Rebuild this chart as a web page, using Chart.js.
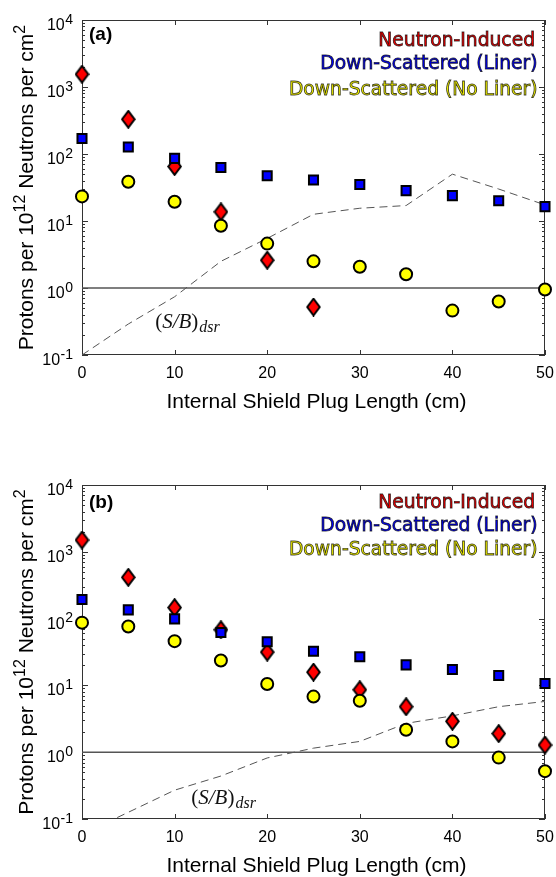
<!DOCTYPE html>
<html>
<head>
<meta charset="utf-8">
<script src="https://cdn.jsdelivr.net/npm/chart.js@4.4.0/dist/chart.umd.min.js"></script>
<style>
  body { margin: 0; background: #fff; }
  .panel { position: absolute; left: 0; width: 556px; }
  #pa { top: 0; height: 440px; }
  #pb { top: 440px; height: 437px; }
</style>
</head>
<body>
<div class="panel" id="pa"><canvas id="chartA" width="556" height="440"></canvas></div>
<div class="panel" id="pb"><canvas id="chartB" width="556" height="437"></canvas></div>
<script>
// plug length (cm) shared by both panels
const plugLength = [0, 5, 10, 15, 20, 25, 30, 35, 40, 45, 50];
const xTicks = [0, 10, 20, 30, 40, 50];
const yTickExps = [-1, 0, 1, 2, 3, 4];
const unityX = [0, 50];
const unityY = [1, 1];

// panel (a)
const neutronA = [1550, 330, 65, 13.7, 2.6, 0.52, null, null, null, null, null];
const linerA   = [170, 127, 86, 63, 47.5, 41, 35, 28.4, 23.9, 20, 16.4];
const noLinerA = [23.3, 38.6, 19.4, 8.5, 4.6, 2.5, 2.08, 1.6, 0.46, 0.63, 0.95];
const sbA      = [0.1, 0.29, 0.74, 2.5, 5.5, 12.6, 15.5, 17, 50, 30, 17.4];

// panel (b)
const neutronB = [1500, 415, 146, 68, 31.5, 15.8, 8.6, 4.8, 2.9, 1.9, 1.28];
const linerB   = [193, 135, 99, 62, 45, 32.5, 26.8, 20.3, 17.3, 14.1, 10.7];
const noLinerB = [87, 76, 46, 23.6, 10.5, 6.8, 5.9, 2.17, 1.45, 0.83, 0.52];
const sbB      = [0.059, 0.126, 0.27, 0.44, 0.82, 1.15, 1.45, 2.7, 3.5, 4.8, 5.75];

const legendNames = ['Neutron-Induced', 'Down-Scattered (Liner)', 'Down-Scattered (No Liner)'];
const legendColors = ['#ff0000', '#0000ff', '#ffff00'];

const SANS = '"Liberation Sans", Arial, sans-serif';

// tall red diamond marker
const diamond = document.createElement('canvas');
diamond.width = 15; diamond.height = 19;
(function () {
  const c = diamond.getContext('2d');
  c.beginPath();
  c.moveTo(7.5, 1.2); c.lineTo(13.8, 9.5); c.lineTo(7.5, 17.8); c.lineTo(1.2, 9.5);
  c.closePath();
  c.fillStyle = '#ff0000'; c.fill();
  c.lineWidth = 2; c.strokeStyle = '#000'; c.stroke();
})();

function series(xs, ys) {
  return xs.map((x, i) => ({ x: x, y: ys[i] })).filter(p => p.y != null);
}

const framePlugin = {
  id: 'frame',
  beforeDatasetsDraw(chart) {
    const ctx = chart.ctx;
    const { left, right, top, bottom } = chart.chartArea;
    const xs = chart.scales.x, ys = chart.scales.y;
    ctx.save();
    ctx.strokeStyle = '#333';
    ctx.lineWidth = 1;
    ctx.strokeRect(left + 0.5, top + 0.5, right - left - 1, bottom - top - 1);
    ctx.beginPath();
    xTicks.forEach(v => {
      const px = Math.round(xs.getPixelForValue(v)) + 0.5;
      ctx.moveTo(px, bottom); ctx.lineTo(px, bottom - 5);
      ctx.moveTo(px, top); ctx.lineTo(px, top + 5);
    });
    yTickExps.forEach(k => {
      const py = Math.round(ys.getPixelForValue(Math.pow(10, k))) + 0.5;
      ctx.moveTo(left, py); ctx.lineTo(left + 6, py);
      ctx.moveTo(right, py); ctx.lineTo(right - 6, py);
      if (k < 4) {
        for (let m = 2; m <= 9; m++) {
          const pm = Math.round(ys.getPixelForValue(m * Math.pow(10, k))) + 0.5;
          ctx.moveTo(left, pm); ctx.lineTo(left + 3, pm);
          ctx.moveTo(right, pm); ctx.lineTo(right - 3, pm);
        }
      }
    });
    ctx.stroke();
    ctx.restore();
  },
  afterDraw(chart, args, opts) {
    const ctx = chart.ctx;
    const { left, right, top, bottom } = chart.chartArea;
    const xs = chart.scales.x, ys = chart.scales.y;
    ctx.save();
    ctx.fillStyle = '#000';
    ctx.textBaseline = 'alphabetic';

    // y tick labels 10^k
    yTickExps.forEach(k => {
      const py = ys.getPixelForValue(Math.pow(10, k));
      ctx.font = '14px ' + SANS;
      const sup = String(k);
      const ws = ctx.measureText(sup).width;
      ctx.textAlign = 'left';
      ctx.fillText(sup, 73 - ws, py + 3.5);
      ctx.font = '16px ' + SANS;
      ctx.textAlign = 'right';
      ctx.fillText('10', 73 - ws - 0.5, py + 10);
    });

    // x title
    ctx.font = '21px ' + SANS;
    ctx.textAlign = 'center';
    ctx.fillText('Internal Shield Plug Length (cm)', (left + right) / 2 + 3, bottom + 53);

    // y title with superscripts
    const parts = [
      ['Protons per 10', '21px ' + SANS, 0],
      ['12', '16px ' + SANS, 8],
      [' Neutrons per cm', '21px ' + SANS, 0],
      ['2', '16px ' + SANS, 8]
    ];
    let total = 0;
    parts.forEach(p => { ctx.font = p[1]; p.push(ctx.measureText(p[0]).width); total += p[3]; });
    ctx.save();
    ctx.translate(32.5, (top + bottom) / 2);
    ctx.rotate(-Math.PI / 2);
    ctx.textAlign = 'left';
    let u = -total / 2;
    parts.forEach(p => { ctx.font = p[1]; ctx.fillText(p[0], u, -p[2]); u += p[3]; });
    ctx.restore();

    // panel tag
    ctx.font = 'bold 19px ' + SANS;
    ctx.textAlign = 'left';
    ctx.fillText(opts.tag, left + 7, top + opts.tagDy);

    // legend text (coloured with dark edge)
    ctx.font = '18.7px "DejaVu Sans", Verdana, sans-serif';
    ctx.textAlign = 'right';
    ctx.lineWidth = 0.9;
    ctx.strokeStyle = 'rgba(0,0,0,0.75)';
    legendNames.forEach((name, i) => {
      const xr = i === 0 ? right - 10 : right - 7.5;
      const yb = top + opts.legendDy[i];
      ctx.fillStyle = legendColors[i];
      ctx.fillText(name, xr, yb);
      ctx.strokeText(name, xr, yb);
    });

    // (S/B)_dsr label
    const lx = xs.getPixelForValue(opts.sbLabel[0]);
    const ly = ys.getPixelForValue(opts.sbLabel[1]);
    ctx.fillStyle = '#111';
    ctx.textAlign = 'left';
    const pieces = [
      ['(', '21px "Liberation Serif", serif', 0],
      ['S/B', 'italic 21px "Liberation Serif", serif', 0],
      [')', '21px "Liberation Serif", serif', 0],
      ['dsr', 'italic 16px "Liberation Serif", serif', -4]
    ];
    let cx = lx;
    pieces.forEach(p => {
      ctx.font = p[1];
      ctx.fillText(p[0], cx, ly - p[2]);
      cx += ctx.measureText(p[0]).width + (p[0] === ')' ? 1 : 0);
    });
    ctx.restore();
  }
};

function makePanel(id, d) {
  return new Chart(document.getElementById(id), {
    type: 'scatter',
    data: {
      datasets: [
        { label: legendNames[2], data: series(plugLength, d.noLiner), order: 1, clip: false,
          pointStyle: 'circle', pointRadius: 6, pointBackgroundColor: '#ffff00',
          pointBorderColor: '#000', pointBorderWidth: 2 },
        { label: legendNames[1], data: series(plugLength, d.liner), order: 2, clip: false,
          pointStyle: 'rect', pointRadius: 6.4, pointBackgroundColor: '#0000ff',
          pointBorderColor: '#000', pointBorderWidth: 2 },
        { label: legendNames[0], data: series(plugLength, d.neutron), order: 3, clip: false,
          pointStyle: diamond, pointRadius: 9 },
        { label: 'S/B', data: series(plugLength, d.sb), order: 4, showLine: true,
          pointRadius: 0, borderColor: '#555', borderWidth: 1, borderDash: [8, 5] },
        { label: 'unity', data: series(unityX, unityY), order: 5, showLine: true,
          pointRadius: 0, borderColor: '#555', borderWidth: 1.5 }
      ]
    },
    options: {
      responsive: false,
      animation: false,
      layout: { padding: { left: 0, right: 11, top: d.top, bottom: 0 } },
      plugins: {
        legend: { display: false },
        tooltip: { enabled: false },
        frame: { tag: d.tag, tagDy: d.tagDy, legendDy: d.legendDy, sbLabel: d.sbLabel }
      },
      scales: {
        x: {
          type: 'linear', min: 0, max: 50,
          grid: { display: false, drawTicks: false },
          border: { display: false },
          ticks: { stepSize: 10, padding: 9, color: '#000', font: { family: SANS, size: 16 } },
          afterFit(s) { s.height = d.xAxisH; s.paddingLeft = 0; s.paddingRight = 0; }
        },
        y: {
          type: 'logarithmic', min: 0.1, max: 10000,
          grid: { display: false },
          border: { display: false },
          ticks: { display: false },
          afterFit(s) { s.width = 82; }
        }
      }
    },
    plugins: [framePlugin]
  });
}

makePanel('chartA', {
  neutron: neutronA, liner: linerA, noLiner: noLinerA, sb: sbA,
  top: 20, xAxisH: 85, tag: '(a)', tagDy: 20, legendDy: [25.7, 49, 75], sbLabel: [7.9, 0.253]
});
makePanel('chartB', {
  neutron: neutronB, liner: linerB, noLiner: noLinerB, sb: sbB,
  top: 45, xAxisH: 58, tag: '(b)', tagDy: 23, legendDy: [23, 46, 70], sbLabel: [11.8, 0.168]
});
</script>
</body>
</html>
